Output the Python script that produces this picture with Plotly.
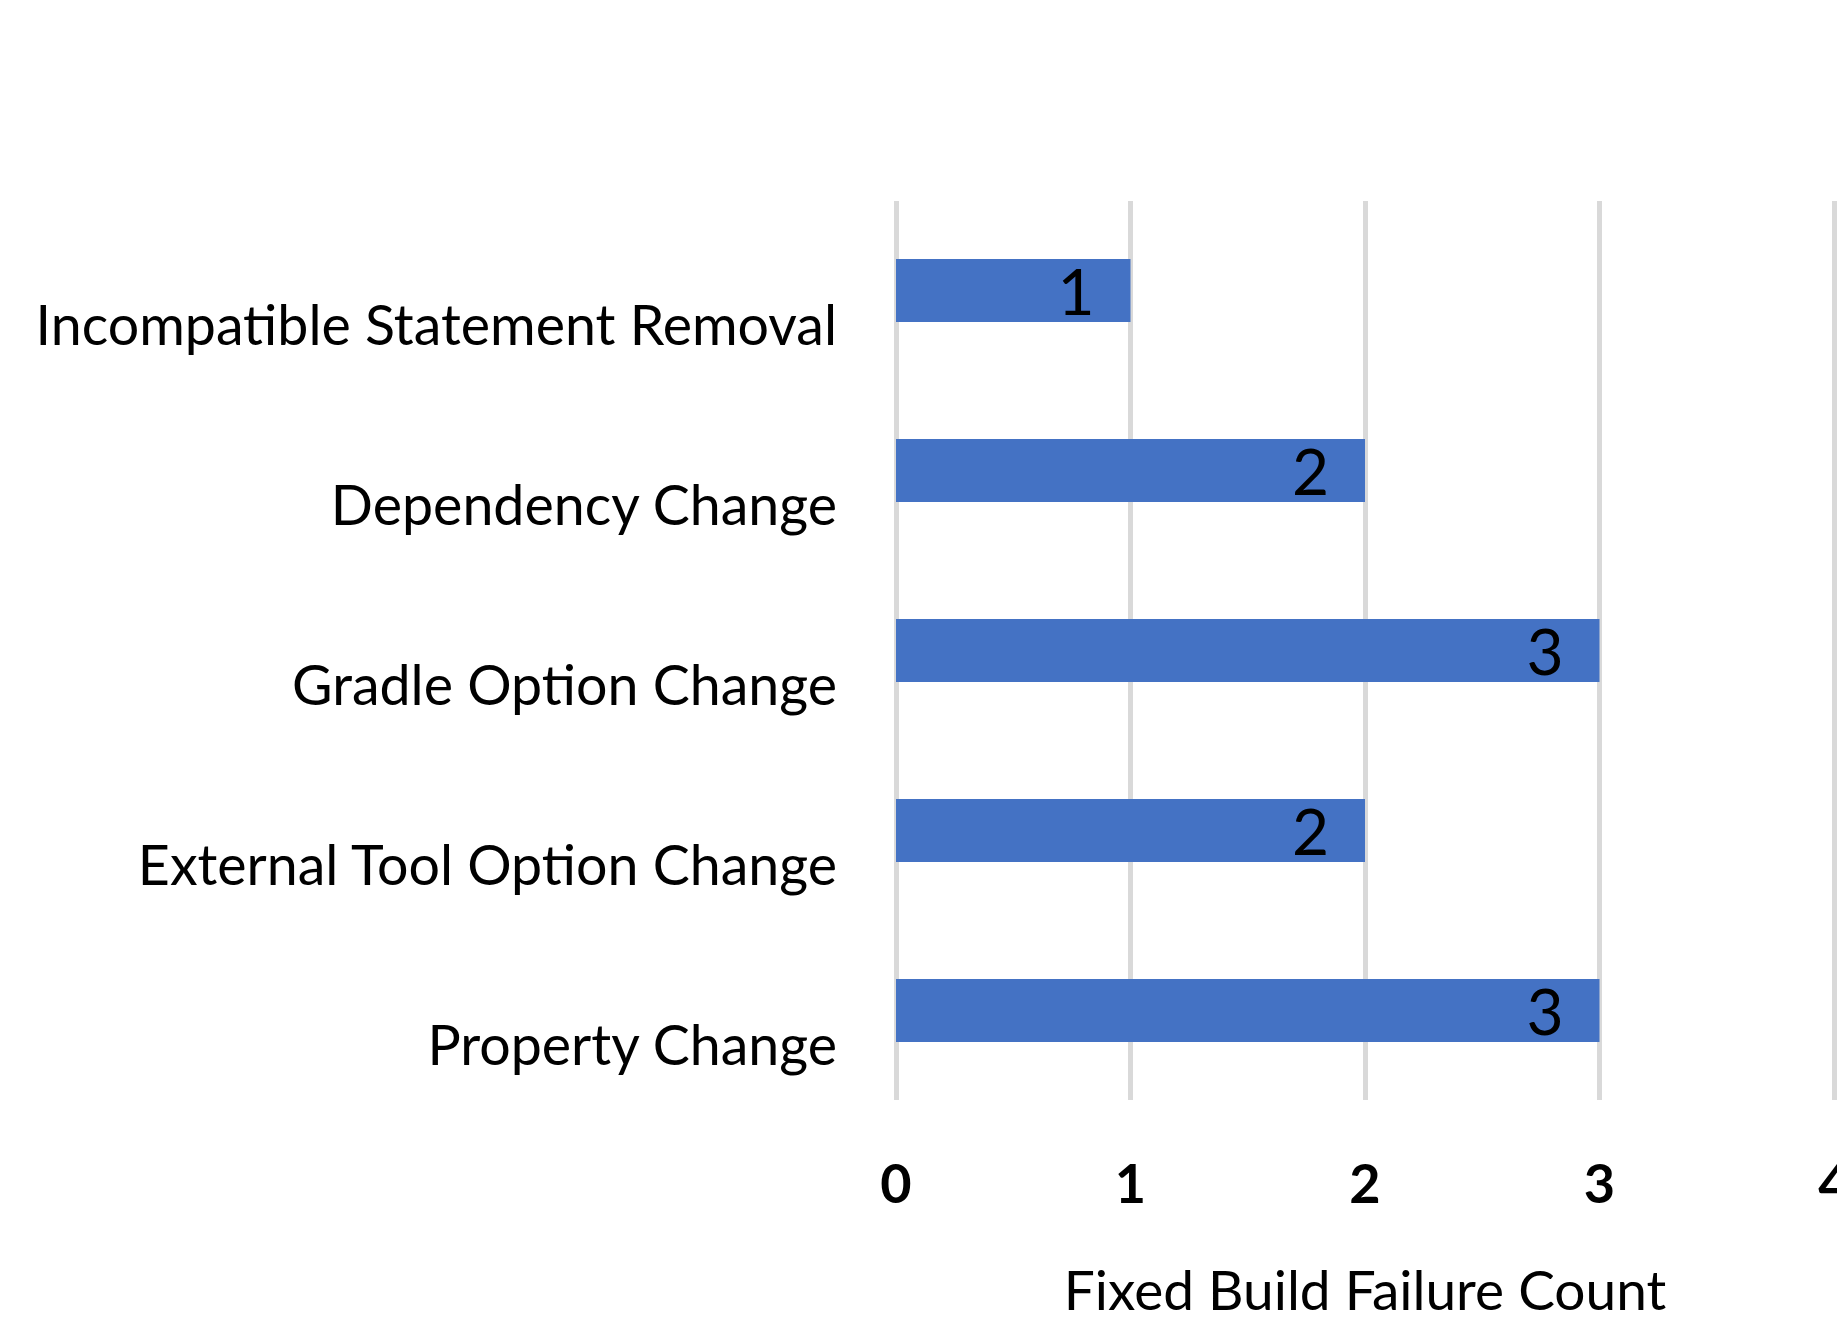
import plotly.graph_objects as go

# ── Data ──────────────────────────────────────────────────────────────────────
categories = [
    "Incompatible Statement Removal",
    "Dependency Change",
    "Gradle Option Change",
    "External Tool Option Change",
    "Property Change",
]
counts = [1, 2, 3, 2, 3]
x_ticks = [0, 1, 2, 3, 4]
x_title = "Fixed Build Failure Count"

FONT = "Lato, Roboto, sans-serif"
BAR_COLOR = "#4472C4"
GRID = "#d9d9d9"

# page body adds an 8px margin, so the figure is 16px smaller than the window
fig = go.Figure(
    go.Bar(
        x=counts,
        y=categories,
        orientation="h",
        marker={"color": BAR_COLOR, "line": {"width": 0}},
        width=0.35,
        offset=-0.372,
        text=counts,
        texttemplate="%{x}\u00a0\u00a0",
        textposition="inside",
        insidetextanchor="end",
        textangle=0,
        constraintext="none",
        textfont={"family": FONT, "size": 64, "color": "black"},
        hoverinfo="skip",
    )
)

fig.update_layout(
    width=1829,
    height=1314,
    margin={"l": 885, "r": 0, "t": 193, "b": 222, "autoexpand": False},
    paper_bgcolor="white",
    plot_bgcolor="white",
    showlegend=False,
    font={"family": FONT, "color": "black"},
    xaxis={
        "range": [-0.0128, 4.0128],
        "automargin": False,
        "tickvals": x_ticks,
        "ticktext": [str(v) for v in x_ticks],
        "tickfont": {"family": FONT, "size": 54, "color": "black", "weight": "bold"},
        "ticklabelstandoff": 48,
        "ticklabeloverflow": "allow",
        "showgrid": True,
        "gridcolor": GRID,
        "gridwidth": 4.5,
        "zeroline": False,
        "showline": False,
        "title": {
            "text": x_title,
            "font": {"family": FONT, "size": 55, "color": "black"},
            "standoff": 62,
        },
    },
    yaxis={
        "type": "category",
        "automargin": False,
        "categoryorder": "array",
        "categoryarray": categories,
        "range": [4.3, -0.694],
        "tickfont": {"family": FONT, "size": 55.5, "color": "black"},
        "ticklabelstandoff": 55,
        "showgrid": False,
        "zeroline": False,
        "showline": False,
    },
)

fig.write_html("out.html")
